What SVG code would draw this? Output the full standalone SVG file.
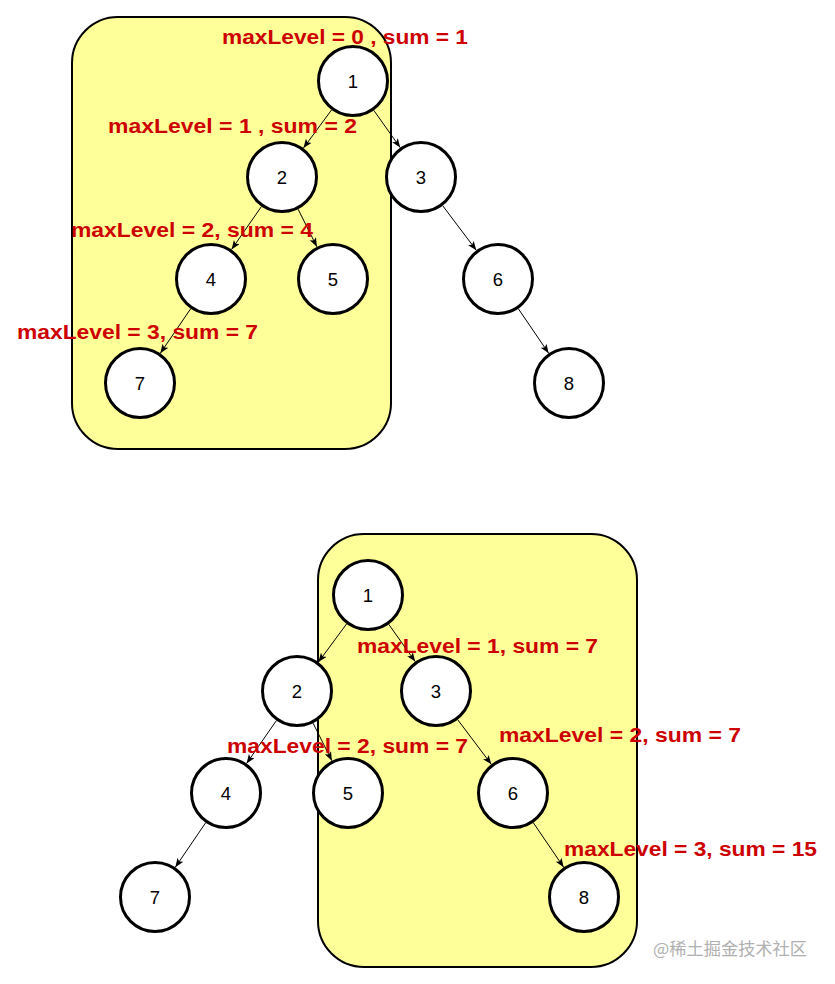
<svg xmlns="http://www.w3.org/2000/svg" width="835" height="984" viewBox="0 0 835 984">
<style>
.box{fill:#FFFF99;stroke:#000;stroke-width:2}
.node circle{fill:#fff;stroke:#000;stroke-width:3}
.node text{font-family:"Liberation Sans",Arial,sans-serif;font-size:18.5px;fill:#000;text-anchor:middle}
.edge{stroke:#000;stroke-width:1;fill:none;marker-end:url(#arr)}
.lbl{font-family:"Liberation Sans",Arial,sans-serif;font-size:19.5px;font-weight:bold;fill:#CC0000}
.wm{font-family:"Noto Sans CJK SC","Liberation Sans",sans-serif;font-size:17px;fill:#B0B0B0}
</style>
<defs>
<marker id="arr" markerUnits="userSpaceOnUse" markerWidth="10" markerHeight="8" refX="9" refY="3.5" orient="auto">
<path d="M0,0 L9,3.5 L0,7 L2,3.5 z" fill="#000"/>
</marker>
</defs>
<rect id="box-top" class="box" x="72" y="17" width="319" height="432" rx="46" ry="46"/>
<rect id="box-bottom" class="box" x="318" y="534" width="319" height="433" rx="46" ry="46"/>
<g id="connectors">
<g id="top-edges">
<line class="edge" x1="331.6" y1="109.9" x2="303.4" y2="148.1"/>
<line class="edge" x1="373.8" y1="110.4" x2="400.2" y2="147.6"/>
<line class="edge" x1="261.4" y1="206.6" x2="231.6" y2="249.4"/>
<line class="edge" x1="298.1" y1="209.2" x2="316.9" y2="246.8"/>
<line class="edge" x1="442.7" y1="205.7" x2="476.3" y2="250.3"/>
<line class="edge" x1="190.7" y1="308.7" x2="160.3" y2="353.3"/>
<line class="edge" x1="518.3" y1="308.7" x2="548.7" y2="353.3"/>
</g>
<g id="bottom-edges" transform="translate(15,514)">
<line class="edge" x1="331.6" y1="109.9" x2="303.4" y2="148.1"/>
<line class="edge" x1="373.8" y1="110.4" x2="400.2" y2="147.6"/>
<line class="edge" x1="261.4" y1="206.6" x2="231.6" y2="249.4"/>
<line class="edge" x1="298.1" y1="209.2" x2="316.9" y2="246.8"/>
<line class="edge" x1="442.7" y1="205.7" x2="476.3" y2="250.3"/>
<line class="edge" x1="190.7" y1="308.7" x2="160.3" y2="353.3"/>
<line class="edge" x1="518.3" y1="308.7" x2="548.7" y2="353.3"/>
</g>
</g>
<g id="top-tree">
<g id="t1" class="node"><circle cx="353" cy="81" r="34.5"/><text x="353" y="87.5">1</text></g>
<g id="t2" class="node"><circle cx="282" cy="177" r="34.5"/><text x="282" y="183.5">2</text></g>
<g id="t3" class="node"><circle cx="421" cy="177" r="34.5"/><text x="421" y="183.5">3</text></g>
<g id="t4" class="node"><circle cx="211" cy="279" r="34.5"/><text x="211" y="285.5">4</text></g>
<g id="t5" class="node"><circle cx="333" cy="279" r="34.5"/><text x="333" y="285.5">5</text></g>
<g id="t6" class="node"><circle cx="498" cy="279" r="34.5"/><text x="498" y="285.5">6</text></g>
<g id="t7" class="node"><circle cx="140" cy="383" r="34.5"/><text x="140" y="389.5">7</text></g>
<g id="t8" class="node"><circle cx="569" cy="383" r="34.5"/><text x="569" y="389.5">8</text></g>
</g>
<g id="bottom-tree" transform="translate(15,514)">
<g id="b1" class="node"><circle cx="353" cy="81" r="34.5"/><text x="353" y="87.5">1</text></g>
<g id="b2" class="node"><circle cx="282" cy="177" r="34.5"/><text x="282" y="183.5">2</text></g>
<g id="b3" class="node"><circle cx="421" cy="177" r="34.5"/><text x="421" y="183.5">3</text></g>
<g id="b4" class="node"><circle cx="211" cy="279" r="34.5"/><text x="211" y="285.5">4</text></g>
<g id="b5" class="node"><circle cx="333" cy="279" r="34.5"/><text x="333" y="285.5">5</text></g>
<g id="b6" class="node"><circle cx="498" cy="279" r="34.5"/><text x="498" y="285.5">6</text></g>
<g id="b7" class="node"><circle cx="140" cy="383" r="34.5"/><text x="140" y="389.5">7</text></g>
<g id="b8" class="node"><circle cx="569" cy="383" r="34.5"/><text x="569" y="389.5">8</text></g>
</g>
<g id="labels">
<text class="lbl" x="222" y="44" textLength="246" lengthAdjust="spacingAndGlyphs">maxLevel = 0 , sum = 1</text>
<text class="lbl" x="108" y="133" textLength="249" lengthAdjust="spacingAndGlyphs">maxLevel = 1 , sum = 2</text>
<text class="lbl" x="71" y="237" textLength="242" lengthAdjust="spacingAndGlyphs">maxLevel = 2, sum = 4</text>
<text class="lbl" x="17" y="339" textLength="241" lengthAdjust="spacingAndGlyphs">maxLevel = 3, sum = 7</text>
<text class="lbl" x="357" y="653" textLength="241" lengthAdjust="spacingAndGlyphs">maxLevel = 1, sum = 7</text>
<text class="lbl" x="227" y="753" textLength="241" lengthAdjust="spacingAndGlyphs">maxLevel = 2, sum = 7</text>
<text class="lbl" x="499" y="742" textLength="242" lengthAdjust="spacingAndGlyphs">maxLevel = 2, sum = 7</text>
<text class="lbl" x="564" y="856" textLength="253" lengthAdjust="spacingAndGlyphs">maxLevel = 3, sum = 15</text>
</g>
<text class="wm" x="653" y="955" textLength="154" lengthAdjust="spacingAndGlyphs">@稀土掘金技术社区</text>
</svg>
